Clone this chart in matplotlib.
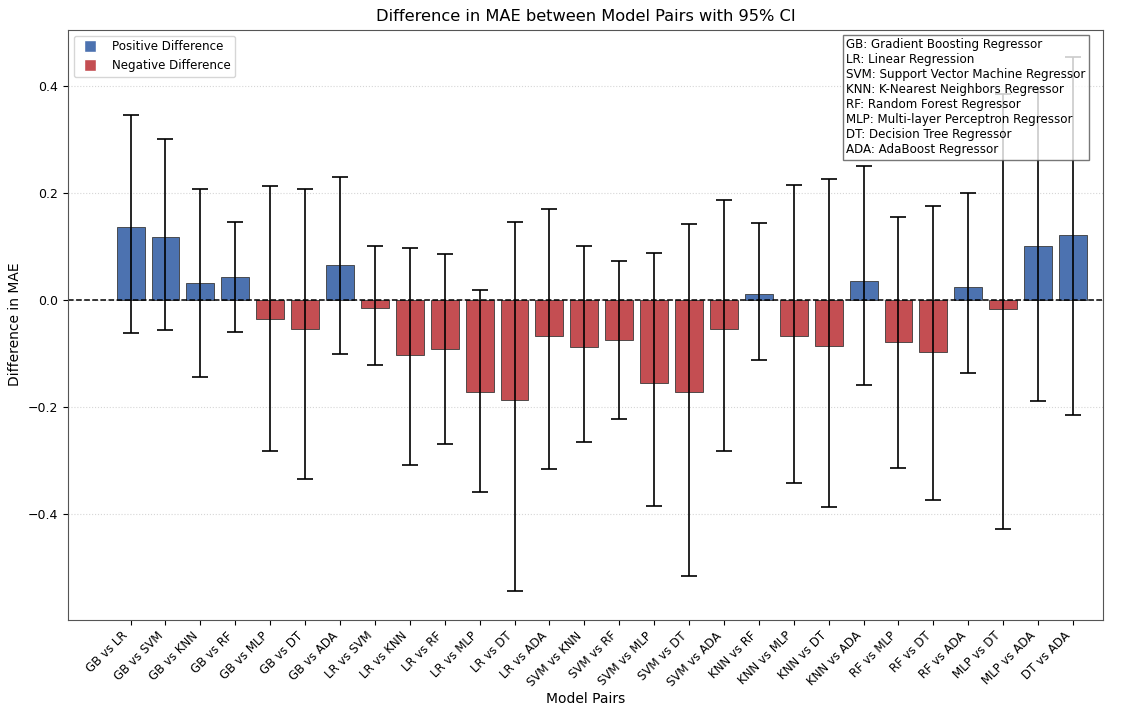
import matplotlib.pyplot as plt
from matplotlib.lines import Line2D
import numpy as np

# Model pair comparisons
pairs = ["GB vs LR", "GB vs SVM", "GB vs KNN", "GB vs RF", "GB vs MLP", "GB vs DT", "GB vs ADA",
         "LR vs SVM", "LR vs KNN", "LR vs RF", "LR vs MLP", "LR vs DT", "LR vs ADA",
         "SVM vs KNN", "SVM vs RF", "SVM vs MLP", "SVM vs DT", "SVM vs ADA",
         "KNN vs RF", "KNN vs MLP", "KNN vs DT", "KNN vs ADA",
         "RF vs MLP", "RF vs DT", "RF vs ADA", "MLP vs DT", "MLP vs ADA", "DT vs ADA"]
mae_diff = [0.135, 0.118, 0.032, 0.043, -0.036, -0.055, 0.065,
            -0.015, -0.104, -0.092, -0.172, -0.188, -0.068,
            -0.088, -0.075, -0.155, -0.172, -0.054,
            0.010, -0.068, -0.086, 0.034,
            -0.080, -0.097, 0.023, -0.018, 0.100, 0.120]
ci_lower = [-0.062, -0.057, -0.145, -0.060, -0.283, -0.335, -0.101,
            -0.122, -0.310, -0.270, -0.360, -0.545, -0.316,
            -0.267, -0.223, -0.385, -0.517, -0.282,
            -0.112, -0.342, -0.387, -0.160,
            -0.314, -0.375, -0.138, -0.428, -0.190, -0.216]
ci_upper = [0.346, 0.301, 0.207, 0.145, 0.212, 0.207, 0.230,
            0.101, 0.096, 0.085, 0.018, 0.145, 0.170,
            0.101, 0.073, 0.088, 0.141, 0.186,
            0.143, 0.214, 0.226, 0.250,
            0.154, 0.176, 0.199, 0.385, 0.395, 0.454]

abbrev = """GB: Gradient Boosting Regressor
LR: Linear Regression
SVM: Support Vector Machine Regressor
KNN: K-Nearest Neighbors Regressor
RF: Random Forest Regressor
MLP: Multi-layer Perceptron Regressor
DT: Decision Tree Regressor
ADA: AdaBoost Regressor"""

blue = "#4c72b0"
red = "#c44e52"

diff = np.array(mae_diff)
yerr = [diff - np.array(ci_lower), np.array(ci_upper) - diff]
colors = [blue if d > 0 else red for d in diff]
x = np.arange(len(pairs))

fig, ax = plt.subplots(figsize=(11.29, 7.04), dpi=100)
fig.subplots_adjust(left=0.06, right=0.977, top=0.958, bottom=0.12)

ax.bar(x, diff, color=colors, edgecolor="#3a3a3a", linewidth=0.6, width=0.8,
       yerr=yerr, capsize=5.5, error_kw=dict(elinewidth=1.2, capthick=1.2, ecolor="black"))
ax.axhline(0, color="black", linestyle="--", linewidth=1.1)

ax.set_xticks(x)
ax.set_xticklabels(pairs, rotation=45, ha="right", fontsize=8.5)
ax.tick_params(axis="y", labelsize=9)
ax.set_ylim(-0.598, 0.505)
ax.set_xlim(-1.8, 27.86)
ax.yaxis.grid(True, linestyle=":", color="#cccccc", alpha=0.8)
ax.set_axisbelow(True)
for s in ax.spines.values():
    s.set_color("#555555")

ax.set_title("Difference in MAE between Model Pairs with 95% CI", fontsize=11.7)
ax.set_xlabel("Model Pairs", fontsize=10, labelpad=2)
ax.set_ylabel("Difference in MAE", fontsize=10)

handles = [Line2D([0], [0], marker="s", color="w", markerfacecolor=blue, markersize=8, label="Positive Difference"),
           Line2D([0], [0], marker="s", color="w", markerfacecolor=red, markersize=8, label="Negative Difference")]
ax.legend(handles=handles, loc="upper left", fontsize=8.6)

ax.text(0.752, 0.985, abbrev, transform=ax.transAxes, fontsize=8.6, va="top", ha="left",
        bbox=dict(boxstyle="square,pad=0.3", facecolor="white", edgecolor="#555555", alpha=0.8))

fig.savefig("out.png")
